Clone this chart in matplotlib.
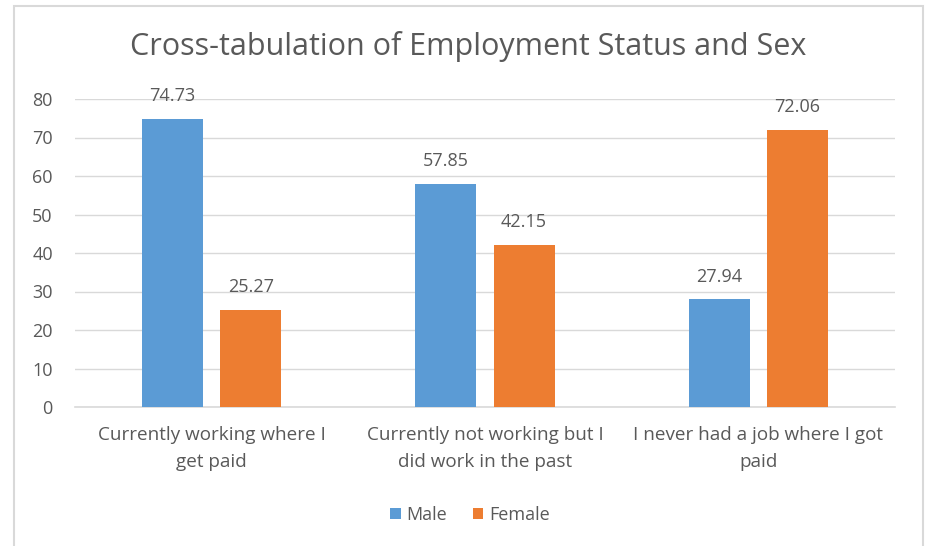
import matplotlib
matplotlib.use("Agg")
import matplotlib.pyplot as plt
import numpy as np
from matplotlib.patches import Rectangle

categories = ["Currently working where I\nget paid",
              "Currently not working but I\ndid work in the past",
              "I never had a job where I got\npaid"]
male = [74.73, 57.85, 27.94]
female = [25.27, 42.15, 72.06]
yticks = [0, 10, 20, 30, 40, 50, 60, 70, 80]

plt.rcParams['font.family'] = ['Open Sans', 'DejaVu Sans']
txt = '#595959'
W, H = 937, 546
fig = plt.figure(figsize=(W/100, H/100), dpi=100)
fig.patches.append(Rectangle((14/W, -0.01), (923-14)/W, 1 - 6/H + 0.01, transform=fig.transFigure,
                             fill=False, edgecolor='#D9D9D9', linewidth=1.5))
left, right, bottom, top = 75/W, 895/W, 1 - 407/H, 1 - 99/H
ax = fig.add_axes([left, bottom, right-left, top-bottom])
x = np.arange(len(categories))
bw = 0.223
off = 0.143
b1 = ax.bar(x - off, male, bw, color='#5B9BD5', label='Male', zorder=3)
b2 = ax.bar(x + off, female, bw, color='#ED7D31', label='Female', zorder=3)
for bars, vals in ((b1, male), (b2, female)):
    for r, v in zip(bars, vals):
        ax.annotate(f"{v:.2f}", (r.get_x() + r.get_width()/2, v), xytext=(0, 10),
                    textcoords='offset points', ha='center', va='bottom', fontsize=13, color=txt)
ax.set_xlim(-0.5, 2.5)
ax.set_ylim(0, 80)
ax.set_yticks(yticks)
ax.set_yticklabels([str(t) for t in yticks], fontsize=13, color=txt)
ax.set_xticks(x)
ax.set_xticklabels(categories, fontsize=13.6, color=txt, linespacing=1.6)
ax.tick_params(length=0, pad=16)
ax.tick_params(axis='x', pad=14)
ax.grid(axis='y', color='#D9D9D9', linewidth=1, zorder=0)
for s in ['top', 'right', 'left']:
    ax.spines[s].set_visible(False)
ax.spines['bottom'].set_color('#D9D9D9')
ax.spines['bottom'].set_linewidth(1.2)
fig.text(0.5, 1 - 47/H, "Cross-tabulation of Employment Status and Sex", ha='center', va='center',
         fontsize=22, color=txt)
fig.legend(handles=[b1, b2], loc='center', bbox_to_anchor=(470/W, 1 - 515/H), ncol=2, frameon=False,
           fontsize=13, labelcolor=txt, handlelength=0.6, handleheight=0.6, handletextpad=0.3, columnspacing=1.4)
fig.savefig("out.png", dpi=100)
